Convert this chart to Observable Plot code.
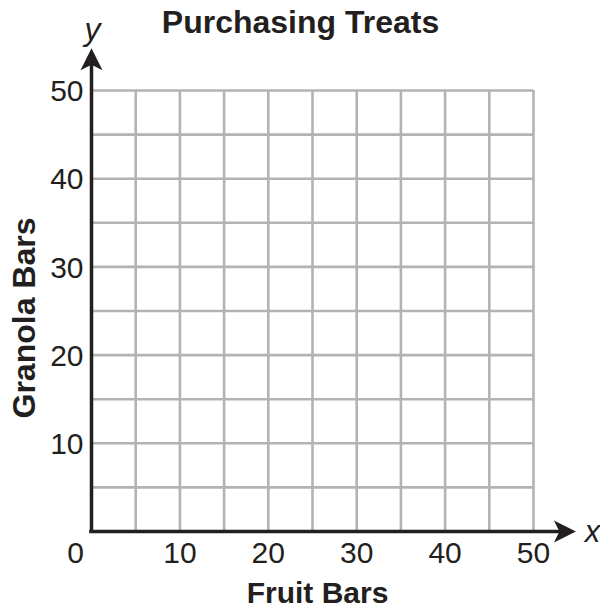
<!DOCTYPE html>
<html>
<head>
<meta charset="utf-8">
<script src="https://cdn.jsdelivr.net/npm/d3@7"></script>
<script src="https://cdn.jsdelivr.net/npm/@observablehq/plot@0.6"></script>
<style>
  html, body { margin: 0; padding: 0; background: #fff; }
  #chart { width: 600px; height: 609px; }
</style>
</head>
<body>
<div id="chart"></div>
<script>
const title = "Purchasing Treats";
const xLabel = "Fruit Bars";
const yLabel = "Granola Bars";
const xTicks = [10, 20, 30, 40, 50];
const yTicks = [10, 20, 30, 40, 50];
const originTick = [0];
const gridValues = [5, 10, 15, 20, 25, 30, 35, 40, 45, 50];
const domainMax = 50;
const arrowTip = 54.8;
const axisEnd = 53.5;

const ink = "#231f20";
const gridColor = "#b3b3b5";
const font = "'Liberation Sans', Arial, Helvetica, sans-serif";

const arrowUp = {
  draw(ctx, size) {
    const r = Math.sqrt(size / Math.PI);
    ctx.moveTo(0, 0);
    ctx.lineTo(r, 2 * r);
    ctx.lineTo(0, 1.5 * r);
    ctx.lineTo(-r, 2 * r);
    ctx.closePath();
  }
};
const arrowRight = {
  draw(ctx, size) {
    const r = Math.sqrt(size / Math.PI);
    ctx.moveTo(0, 0);
    ctx.lineTo(-2 * r, r);
    ctx.lineTo(-1.5 * r, 0);
    ctx.lineTo(-2 * r, -r);
    ctx.closePath();
  }
};

const chart = Plot.plot({
  width: 600,
  height: 609,
  marginLeft: 91,
  marginRight: 67,
  marginTop: 90,
  marginBottom: 78,
  style: { fontFamily: font, background: "#fff", color: ink, overflow: "visible" },
  x: { domain: [0, domainMax], axis: null },
  y: { domain: [0, domainMax], axis: null },
  marks: [
    // grid
    Plot.ruleX(gridValues, { x: d => d, y1: 0, y2: domainMax, stroke: gridColor, strokeWidth: 2.6 }),
    Plot.ruleY(gridValues, { y: d => d, x1: 0, x2: domainMax, stroke: gridColor, strokeWidth: 2.6 }),
    // axes
    Plot.ruleX([0], { x: d => d, y1: -0.2, y2: axisEnd, stroke: ink, strokeWidth: 3.5 }),
    Plot.ruleY([0], { y: d => d, x1: -0.2, x2: axisEnd, stroke: ink, strokeWidth: 3.5 }),
    // arrowheads
    Plot.dot([arrowTip], { x: 0, y: d => d, symbol: arrowUp, r: 11, fill: ink, stroke: "none" }),
    Plot.dot([arrowTip], { x: d => d, y: 0, symbol: arrowRight, r: 11, fill: ink, stroke: "none" }),
    // tick labels
    Plot.text(xTicks, { x: d => d, y: 0, text: d => String(d), dy: 22, fontSize: 30, fill: ink }),
    Plot.text(originTick, { x: d => d, y: 0, text: d => String(d), dy: 22, dx: -16, fontSize: 30, fill: ink }),
    Plot.text(yTicks, { x: 0, y: d => d, text: d => String(d), dx: -8, dy: 1, textAnchor: "end", fontSize: 30, fill: ink }),
    // axis variable letters
    Plot.text(["x"], { x: domainMax, y: 0, text: d => d, dx: 59, dy: 1, fontSize: 31, fontStyle: "italic", fill: ink }),
    Plot.text(["y"], { x: 0, y: domainMax, text: d => d, dx: 1, dy: -61, fontSize: 32, fontStyle: "italic", fill: ink }),
    // titles
    Plot.text([title], { frameAnchor: "top", lineAnchor: "middle", text: d => d, dx: -12, dy: -68, fontSize: 32, fontWeight: "bold", fill: ink }),
    Plot.text([xLabel], { frameAnchor: "bottom", lineAnchor: "middle", text: d => d, dx: 5, dy: 62, fontSize: 30, fontWeight: "bold", fill: ink }),
    Plot.text([yLabel], { frameAnchor: "left", lineAnchor: "middle", rotate: -90, textAnchor: "middle", dx: -67, dy: 7, fontSize: 32, fontWeight: "bold", fill: ink, text: d => d })
  ]
});
document.getElementById("chart").appendChild(chart);
</script>
</body>
</html>
